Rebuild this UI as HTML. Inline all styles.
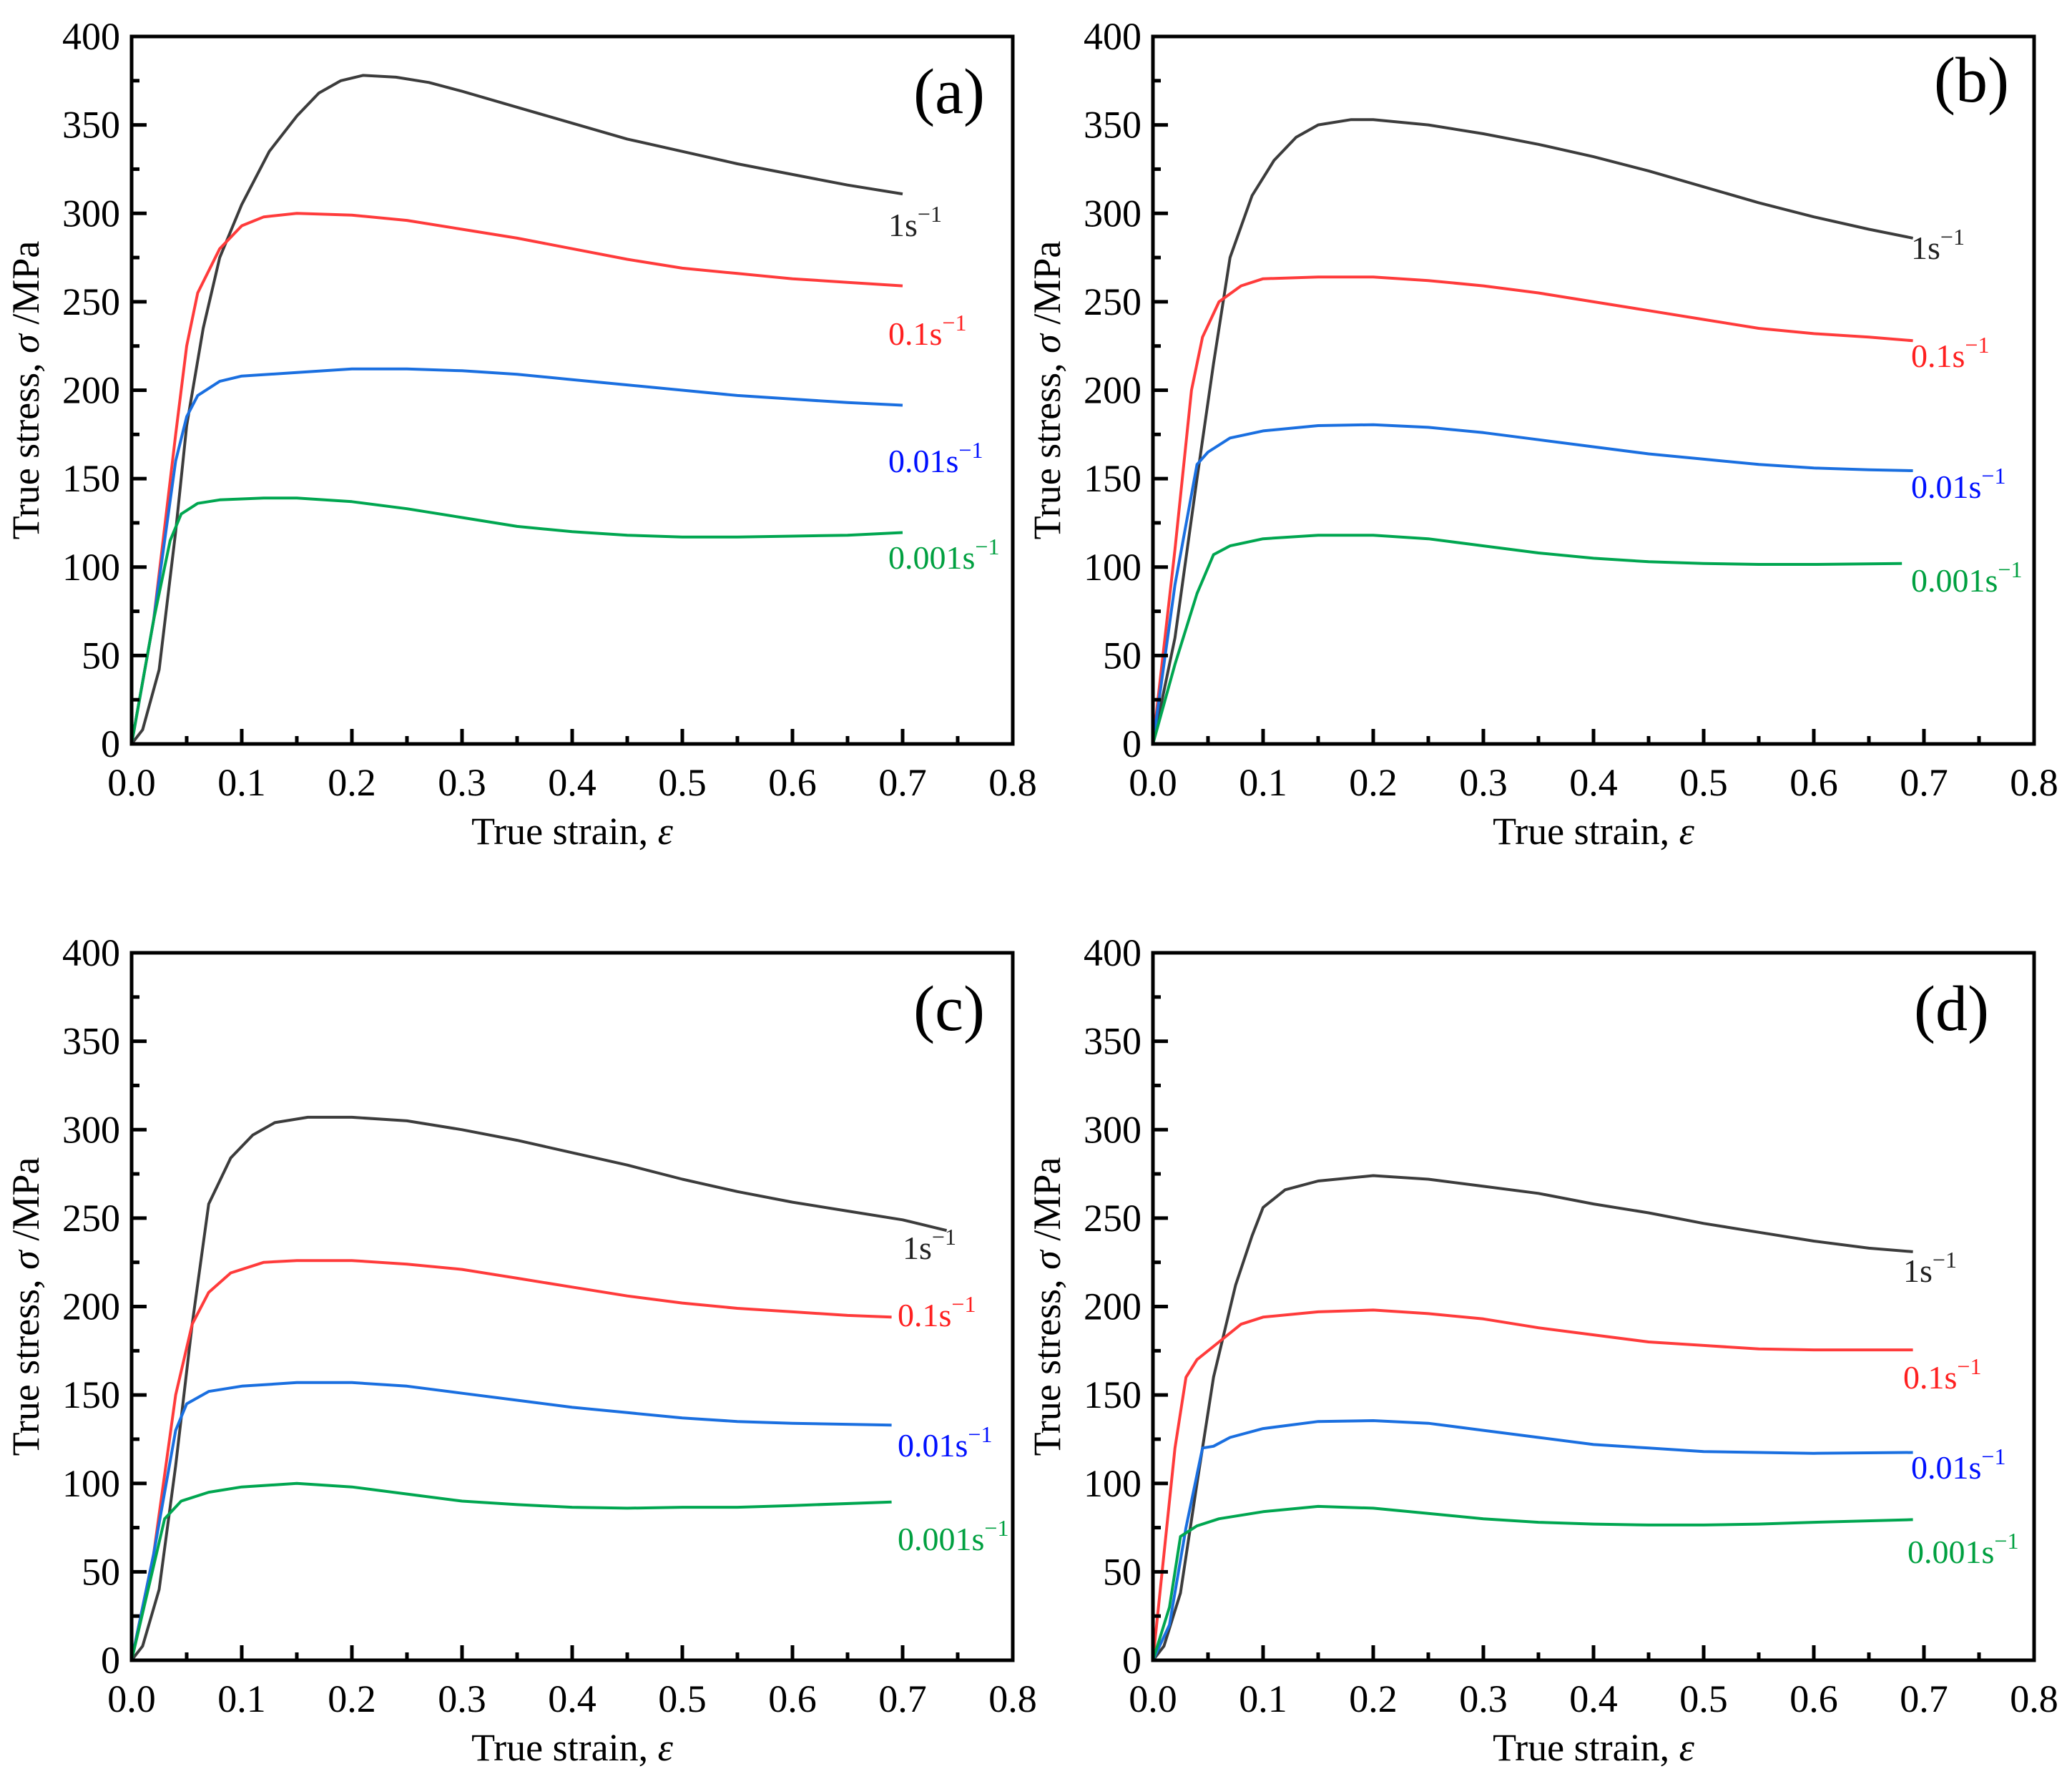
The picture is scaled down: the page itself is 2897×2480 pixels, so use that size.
<!DOCTYPE html>
<html><head><meta charset="utf-8">
<style>
html,body{margin:0;padding:0;background:#fff;}
svg{display:block;font-family:"Liberation Serif","DejaVu Serif",serif;}
svg text{font-family:"Liberation Serif","DejaVu Serif",serif;}
</style></head>
<body>
<svg id="fig" width="2897" height="2480" viewBox="0 0 2897 2480" xmlns="http://www.w3.org/2000/svg"></svg>
<script>
const xTicks=[0,0.1,0.2,0.3,0.4,0.5,0.6,0.7,0.8];
const xTickLabels=["0.0","0.1","0.2","0.3","0.4","0.5","0.6","0.7","0.8"];
const yTicks=[0,50,100,150,200,250,300,350,400];
const yTickLabels=["0","50","100","150","200","250","300","350","400"];
const panelNames=["(a)","(b)","(c)","(d)"];
const rateLabels=["1s","0.1s","0.01s","0.001s"];

const aS1=[[0,0],[0.01,8],[0.025,42],[0.04,120],[0.05,180],[0.065,235],[0.08,275],[0.1,305],[0.125,335],[0.15,355],[0.17,368],[0.19,375],[0.21,378],[0.24,377],[0.27,374],[0.3,369],[0.35,360],[0.4,351],[0.45,342],[0.5,335],[0.55,328],[0.6,322],[0.65,316],[0.7,311]];
const aS01=[[0,0],[0.02,70],[0.04,175],[0.05,225],[0.06,255],[0.08,280],[0.1,293],[0.12,298],[0.15,300],[0.2,299],[0.25,296],[0.3,291],[0.35,286],[0.4,280],[0.45,274],[0.5,269],[0.55,266],[0.6,263],[0.65,261],[0.7,259]];
const aS001=[[0,0],[0.02,70],[0.04,160],[0.05,185],[0.06,197],[0.08,205],[0.1,208],[0.15,210],[0.2,212],[0.25,212],[0.3,211],[0.35,209],[0.4,206],[0.45,203],[0.5,200],[0.55,197],[0.6,195],[0.65,193],[0.7,191.5]];
const aS0001=[[0,0],[0.02,70],[0.035,115],[0.045,130],[0.06,136],[0.08,138],[0.12,139],[0.15,139],[0.2,137],[0.25,133],[0.3,128],[0.35,123],[0.4,120],[0.45,118],[0.5,117],[0.55,117],[0.6,117.5],[0.65,118],[0.7,119.5]];

const bS1=[[0,0],[0.02,60],[0.04,150],[0.055,215],[0.07,275],[0.09,310],[0.11,330],[0.13,343],[0.15,350],[0.18,353],[0.2,353],[0.25,350],[0.3,345],[0.35,339],[0.4,332],[0.45,324],[0.5,315],[0.55,306],[0.6,298],[0.65,291],[0.69,286]];
const bS01=[[0,0],[0.02,110],[0.035,200],[0.045,230],[0.06,250],[0.08,259],[0.1,263],[0.15,264],[0.2,264],[0.25,262],[0.3,259],[0.35,255],[0.4,250],[0.45,245],[0.5,240],[0.55,235],[0.6,232],[0.65,230],[0.69,228]];
const bS001=[[0,0],[0.02,90],[0.04,158],[0.05,165],[0.07,173],[0.1,177],[0.15,180],[0.2,180.5],[0.25,179],[0.3,176],[0.35,172],[0.4,168],[0.45,164],[0.5,161],[0.55,158],[0.6,156],[0.65,155],[0.69,154.5]];
const bS0001=[[0,0],[0.02,45],[0.04,85],[0.055,107],[0.07,112],[0.1,116],[0.15,118],[0.2,118],[0.25,116],[0.3,112],[0.35,108],[0.4,105],[0.45,103],[0.5,102],[0.55,101.5],[0.6,101.5],[0.68,102]];

const cS1=[[0,0],[0.01,8],[0.025,40],[0.04,110],[0.055,190],[0.07,258],[0.09,284],[0.11,297],[0.13,304],[0.16,307],[0.2,307],[0.25,305],[0.3,300],[0.35,294],[0.4,287],[0.45,280],[0.5,272],[0.55,265],[0.6,259],[0.65,254],[0.7,249],[0.74,243]];
const cS01=[[0,0],[0.02,60],[0.04,150],[0.055,190],[0.07,208],[0.09,219],[0.12,225],[0.15,226],[0.2,226],[0.25,224],[0.3,221],[0.35,216],[0.4,211],[0.45,206],[0.5,202],[0.55,199],[0.6,197],[0.65,195],[0.69,194]];
const cS001=[[0,0],[0.02,60],[0.04,130],[0.05,145],[0.07,152],[0.1,155],[0.15,157],[0.2,157],[0.25,155],[0.3,151],[0.35,147],[0.4,143],[0.45,140],[0.5,137],[0.55,135],[0.6,134],[0.69,133]];
const cS0001=[[0,0],[0.015,40],[0.03,80],[0.045,90],[0.07,95],[0.1,98],[0.15,100],[0.2,98],[0.25,94],[0.3,90],[0.35,88],[0.4,86.5],[0.45,86],[0.5,86.5],[0.55,86.5],[0.6,87.5],[0.69,89.5]];

const dS1=[[0,0],[0.01,8],[0.025,38],[0.04,100],[0.055,160],[0.075,212],[0.09,240],[0.1,256],[0.12,266],[0.15,271],[0.2,274],[0.25,272],[0.3,268],[0.35,264],[0.4,258],[0.45,253],[0.5,247],[0.55,242],[0.6,237],[0.65,233],[0.69,231]];
const dS01=[[0,0],[0.01,60],[0.02,120],[0.03,160],[0.04,170],[0.06,180],[0.08,190],[0.1,194],[0.15,197],[0.2,198],[0.25,196],[0.3,193],[0.35,188],[0.4,184],[0.45,180],[0.5,178],[0.55,176],[0.6,175.5],[0.69,175.5]];
const dS001=[[0,0],[0.015,20],[0.03,75],[0.045,120],[0.055,121],[0.07,126],[0.1,131],[0.15,135],[0.2,135.5],[0.25,134],[0.3,130],[0.35,126],[0.4,122],[0.45,120],[0.5,118],[0.55,117.5],[0.6,117],[0.69,117.5]];
const dS0001=[[0,0],[0.015,30],[0.025,70],[0.04,76],[0.06,80],[0.1,84],[0.15,87],[0.2,86],[0.25,83],[0.3,80],[0.35,78],[0.4,77],[0.45,76.5],[0.5,76.5],[0.55,77],[0.6,78],[0.69,79.5]];

const seriesByPanel=[[aS1,aS01,aS001,aS0001],[bS1,bS01,bS001,bS0001],[cS1,cS01,cS001,cS0001],[dS1,dS01,dS001,dS0001]];

const NS="http://www.w3.org/2000/svg";
const FONT='"Liberation Serif","DejaVu Serif",serif';
const svg=document.getElementById('fig');
const lineColors=["#3c3c3c","#ff3b3b","#1a6fe0","#00a650"];
const labelColors=["#222","#ff2020","#0010ff","#00a040"];
const panels=[
 {L:184,T:51,labelPos:[[1242,330],[1242,482],[1242,660],[1242,795]],nameX:1377,nameY:158},
 {L:1612,T:51,labelPos:[[2672,362],[2672,513],[2672,696],[2672,827]],nameX:2809,nameY:142},
 {L:184,T:1332,labelPos:[[1262,1760],[1255,1854],[1255,2036],[1255,2167]],nameX:1377,nameY:1440},
 {L:1612,T:1332,labelPos:[[2661,1792],[2661,1941],[2672,2067],[2667,2185]],nameX:2781,nameY:1440}
];
const W=1232,H=989;
function el(tag,attrs,parent){const e=document.createElementNS(NS,tag);for(const k in attrs)e.setAttribute(k,attrs[k]);if(tag==='text')e.setAttribute('font-family',FONT);(parent||svg).appendChild(e);return e;}

panels.forEach((p,pi)=>{
  const g=el('g',{});
  
  
  const xs=v=>p.L+v/0.8*W;
  const ys=v=>p.T+H-v/400*H;
  seriesByPanel[pi].forEach((s,si)=>{
    const d=s.map((pt,i)=>(i?'L':'M')+xs(pt[0]).toFixed(1)+' '+ys(pt[1]).toFixed(1)).join(' ');
    const path=el('path',{d:d,fill:'none',stroke:lineColors[si],'stroke-width':4,'stroke-linejoin':'round'},g);
    
    
    const t=el('text',{x:p.labelPos[si][0],y:p.labelPos[si][1],'font-size':46,fill:labelColors[si]},g);
    
    
    t.textContent=rateLabels[si];
    const sup=el('tspan',{dy:-20,'font-size':32},t);
    sup.textContent='\u22121';
  });
  const fr=el('rect',{x:p.L,y:p.T,width:W,height:H,fill:'none',stroke:'#000','stroke-width':5},g);
  
  
  xTicks.forEach((v,i)=>{
    const x=xs(v);
    el('line',{x1:x,x2:x,y1:p.T+H,y2:p.T+H-21,stroke:'#000','stroke-width':5},g);
    if(i<xTicks.length-1){const xm=xs(v+0.05);el('line',{x1:xm,x2:xm,y1:p.T+H,y2:p.T+H-11,stroke:'#000','stroke-width':5},g);}
    const t=el('text',{x:x,y:p.T+H+72,'font-size':54,'text-anchor':'middle',fill:'#000'},g);
    
    
    t.textContent=xTickLabels[i];
  });
  yTicks.forEach((v,i)=>{
    const y=ys(v);
    el('line',{x1:p.L,x2:p.L+21,y1:y,y2:y,stroke:'#000','stroke-width':5},g);
    if(i<yTicks.length-1){const ym=ys(v+25);el('line',{x1:p.L,x2:p.L+11,y1:ym,y2:ym,stroke:'#000','stroke-width':5},g);}
    const t=el('text',{x:p.L-16,y:y+18,'font-size':54,'text-anchor':'end',fill:'#000'},g);
    
    
    t.textContent=yTickLabels[i];
  });
  const xt=el('text',{x:xs(0.4),y:p.T+H+140,'font-size':54,'text-anchor':'middle',fill:'#000'},g);
  
  
  xt.textContent='True strain, ';
  const eps=el('tspan',{'font-style':'italic'},xt); eps.textContent='ε';
  const cy=p.T+H/2, cx=p.L-130;
  const yt=el('text',{x:cx,y:cy,'font-size':54,'text-anchor':'middle',fill:'#000',transform:'rotate(-90 '+cx+' '+cy+')'},g);
  
  
  yt.appendChild(document.createTextNode('True stress, '));
  const sg=el('tspan',{'font-style':'italic'},yt); sg.textContent='σ';
  yt.appendChild(document.createTextNode(' /MPa'));
  const pn=el('text',{x:p.nameX,y:p.nameY,'font-size':90,'text-anchor':'end',fill:'#000'},g);
  
  
  pn.textContent=panelNames[pi];
});
</script>
</body></html>
